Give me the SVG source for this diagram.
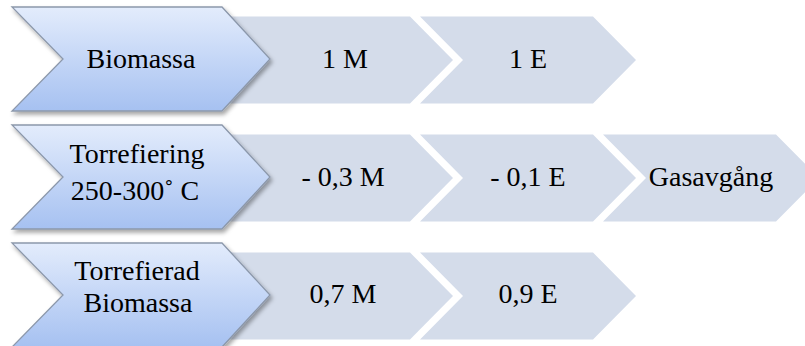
<svg xmlns="http://www.w3.org/2000/svg" width="805" height="346" viewBox="0 0 805 346">
<defs>
<linearGradient id="blueGrad" x1="0" y1="0" x2="0" y2="1">
<stop offset="0" stop-color="#e3ecfc"/>
<stop offset="1" stop-color="#a6c1f1"/>
</linearGradient>
<filter id="shadow" x="-10%" y="-10%" width="130%" height="130%">
<feDropShadow dx="2" dy="3" stdDeviation="2" flood-color="#000" flood-opacity="0.35"/>
</filter>
</defs>
<style>
.blue{fill:url(#blueGrad);stroke:#8c98ab;stroke-width:1.3;filter:url(#shadow)}
.gray{fill:#d4dcea}
text{font-family:'Liberation Serif','Times New Roman',serif;font-size:28px;fill:#000;text-anchor:middle}
</style>
<rect width="805" height="346" fill="#fff"/>
<g id="row1">
<g id="r1-m"><path class="gray" d="M230,16.5 L410,16.5 L453,60 L410,103.5 L230,103.5 Z"/><text x="345" y="68">1 M</text></g>
<g id="r1-e"><path class="gray" d="M420,16.5 L593,16.5 L636,60 L593,103.5 L420,103.5 L463,60 Z"/><text x="528" y="68">1 E</text></g>
<g id="r1-biomassa"><path class="blue" d="M12,7 L222,7 L270,59 L222,111 L12,111 L63,59 Z"/><text x="141" y="68">Biomassa</text></g>
</g>

<g id="row2" transform="translate(0,118)">
<g id="r2-m"><path class="gray" d="M230,16.5 L410,16.5 L453,60 L410,103.5 L230,103.5 Z"/><text x="343" y="68">- 0,3 M</text></g>
<g id="r2-e"><path class="gray" d="M420,16.5 L593,16.5 L636,60 L593,103.5 L420,103.5 L463,60 Z"/><text x="528" y="68">- 0,1 E</text></g>
<g id="r2-gas"><path class="gray" d="M603,16.5 L776,16.5 L819,60 L776,103.5 L603,103.5 L646,60 Z"/><text x="711" y="68">Gasavgång</text></g>
<g id="r2-torrefiering"><path class="blue" d="M12,7 L222,7 L270,59 L222,111 L12,111 L63,59 Z"/><text x="137" y="45">Torrefiering</text><text x="135" y="82">250-300˚ C</text></g>
</g>

<g id="row3" transform="translate(0,236)">
<g id="r3-m"><path class="gray" d="M230,16.5 L410,16.5 L453,60 L410,103.5 L230,103.5 Z"/><text x="343" y="67">0,7 M</text></g>
<g id="r3-e"><path class="gray" d="M420,16.5 L593,16.5 L636,60 L593,103.5 L420,103.5 L463,60 Z"/><text x="528" y="67">0,9 E</text></g>
<g id="r3-torrefierad"><path class="blue" d="M12,7 L222,7 L270,59 L222,111 L12,111 L63,59 Z"/><text x="137" y="44">Torrefierad</text><text x="138" y="76">Biomassa</text></g>
</g>
</svg>
